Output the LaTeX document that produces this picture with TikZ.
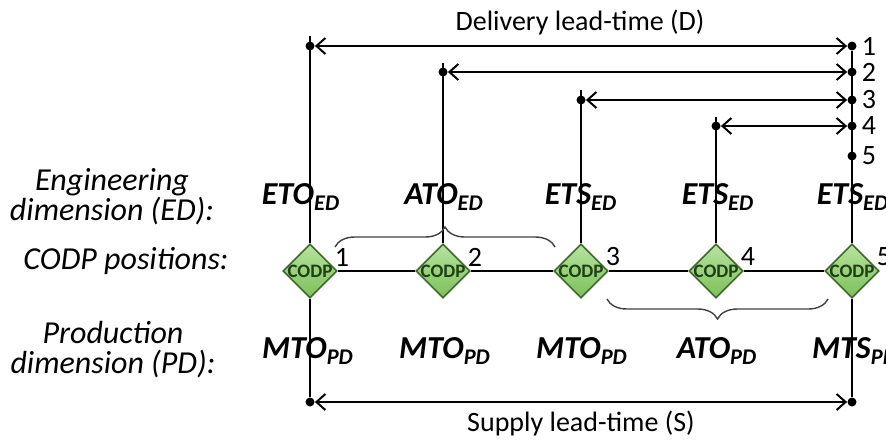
\documentclass[tikz,border=0pt]{standalone}
\usepackage{fontspec}
\setmainfont{Carlito}
\usetikzlibrary{arrows.meta,shapes.geometric,decorations.pathreplacing}

\definecolor{codptop}{HTML}{B7E3A0}
\definecolor{codpbot}{HTML}{7CC05A}
\definecolor{codpedge}{HTML}{3E6B2B}
\definecolor{codptext}{HTML}{1F3F14}

\begin{document}
\begin{tikzpicture}[x=0.5pt,y=-0.5pt,
    dim/.style={line width=1pt,{Straight Barb[length=4.5pt,width=8pt]}-{Straight Barb[length=4.5pt,width=8pt]}},
    vline/.style={line width=0.8pt},
    dot/.style={circle,fill,inner sep=0pt,minimum size=4.5pt},
    codp/.style={diamond,draw=codpedge,line width=0.8pt,top color=codptop,bottom color=codpbot,
        minimum size=27pt,inner sep=0pt,text=codptext,font=\bfseries\fontsize{9.5}{10}\selectfont},
    dimlbl/.style={font=\bfseries\itshape\fontsize{16}{18}\selectfont},
    sidelbl/.style={font=\itshape\fontsize{16}{15}\selectfont,align=center},
    numlbl/.style={font=\fontsize{14}{14}\selectfont,inner sep=0pt},
    leadlbl/.style={font=\fontsize{14}{14}\selectfont},
    brace/.style={decorate,decoration={brace,amplitude=10pt},line width=0.7pt,draw=black!75}]
    \useasboundingbox (0,0) rectangle (886,439);
    \clip (0,0) rectangle (886,439);

    % CODP positions
    \foreach \i/\x in {1/310,2/443,3/581,4/716,5/852}
        \node[codp] (codp\i) at (\x,271) {\makebox[0pt]{CODP}};
    \foreach \i/\x in {1/310,2/443,3/581,4/716,5/852}
        \node[numlbl] (pos\i) at (\x+32,257) {\i};
    \draw[vline] (codp1) -- (codp2) -- (codp3) -- (codp4) -- (codp5);

    % delivery lead-times
    \node[dot] (l1) at (310,46) {};
    \node[dot] (l2) at (443,72) {};
    \node[dot] (l3) at (581,100) {};
    \node[dot] (l4) at (716,126) {};
    \foreach \i/\y in {1/46,2/72,3/100,4/126,5/156}
        \node[dot] (r\i) at (852,\y) {};
    \foreach \i/\y in {1/46,2/72,3/100,4/126,5/156}
        \node[numlbl] (num\i) at (869,\y) {\i};
    \foreach \i in {1,...,4}
        \draw[dim] (l\i) -- (r\i);
    \node[leadlbl] (delivery) at (580,23) {Delivery lead-time (D)};

    % supply lead-time
    \node[dot] (sl) at (310,402) {};
    \node[dot] (sr) at (852,402) {};
    \draw[dim] (sl) -- (sr);
    \node[leadlbl] (supply) at (581,424) {Supply lead-time (S)};

    % vertical lines
    \coordinate (t1) at (310,36);
    \coordinate (t2) at (443,63);
    \coordinate (t3) at (581,90);
    \coordinate (t4) at (716,117);
    \draw[vline] (t1) -- (codp1) -- (sl);
    \draw[vline] (t2) -- (codp2);
    \draw[vline] (t3) -- (codp3);
    \draw[vline] (t4) -- (codp4);
    \draw[vline] (r1) -- (codp5) -- (sr);

    % dimensions
    \node[dimlbl] (ed1) at (301,197) {ETO\textsubscript{ED}};
    \node[dimlbl] (ed2) at (444,197) {ATO\textsubscript{ED}};
    \node[dimlbl] (ed3) at (581,197) {ETS\textsubscript{ED}};
    \node[dimlbl] (ed4) at (718,197) {ETS\textsubscript{ED}};
    \node[dimlbl] (ed5) at (853,197) {ETS\textsubscript{ED}};
    \node[dimlbl] (pd1) at (308,351) {MTO\textsubscript{PD}};
    \node[dimlbl] (pd2) at (445,351) {MTO\textsubscript{PD}};
    \node[dimlbl] (pd3) at (582,351) {MTO\textsubscript{PD}};
    \node[dimlbl] (pd4) at (717,351) {ATO\textsubscript{PD}};
    \node[dimlbl] (pd5) at (855,351) {MTS\textsubscript{PD}};

    \draw[brace] (335,247) -- (555,247);
    \draw[brace] (828,299) -- (607,299);

    % row captions
    \node[sidelbl] (lblED) at (112,197) {Engineering\\dimension (ED):};
    \node[sidelbl] (lblCODP) at (126,261) {CODP positions:};
    \node[sidelbl] (lblPD) at (113,350) {Production\\dimension (PD):};
\end{tikzpicture}
\end{document}
